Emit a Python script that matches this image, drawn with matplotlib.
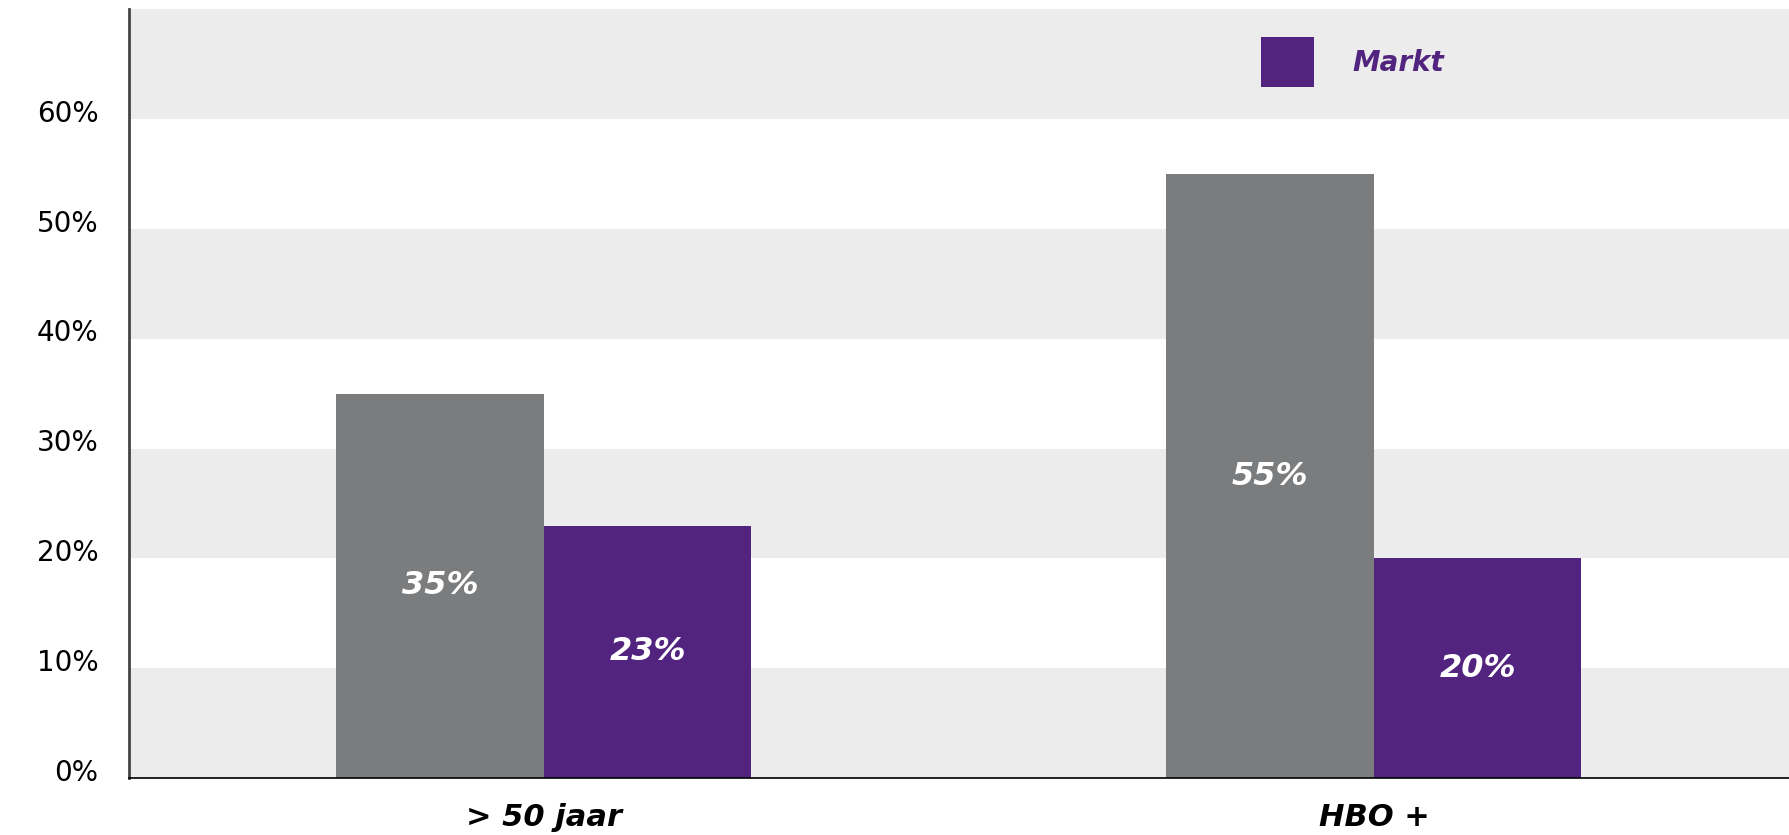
import numpy as np
import matplotlib.pyplot as plt
from matplotlib.transforms import ScaledTranslation

# data
categories = ['> 50 jaar', 'HBO +']
eigen = [35, 55]      # grey series (no legend entry)
markt = [23, 20]      # purple series
yticks = [0, 10, 20, 30, 40, 50, 60]

grey = '#7b7c7e'
purple = '#52247f'
band = '#ebeceb'

plt.rcParams['font.family'] = ['DejaVu Sans']

fig = plt.figure(figsize=(17.89, 8.35), dpi=100)
ax = fig.add_axes([0.072, 0.068, 0.928, 0.921])

x = np.arange(len(categories))
w = 0.25

# alternating grey bands
for lo in yticks[::2]:
    ax.axhspan(lo, lo + 10, color=band, zorder=0, lw=0)

b1 = ax.bar(x - w / 2, eigen, w, color=grey, zorder=2)
b2 = ax.bar(x + w / 2, markt, w, color=purple, zorder=2)

for bars in (b1, b2):
    ax.bar_label(bars, labels=[f'{v}%' for v in bars.datavalues],
                 label_type='center', color='white', fontsize=23,
                 fontweight='bold', fontstyle='italic')

ax.set_xlim(-0.5, 1.5)
ax.set_ylim(0, 70)
ax.set_yticks(yticks)
ax.set_yticklabels([f'{t}%' for t in yticks], fontsize=20)
ax.set_xticks(x)
ax.set_xticklabels(categories, fontsize=22, fontweight='bold', fontstyle='italic')
ax.tick_params(axis='y', length=0, pad=22)
ax.tick_params(axis='x', length=0, pad=18)

# y labels sit a little above their band edges
shift = ScaledTranslation(0, 6 / 72, fig.dpi_scale_trans)
for lab in ax.get_yticklabels():
    lab.set_transform(lab.get_transform() + shift)

ax.spines['top'].set_visible(False)
ax.spines['right'].set_visible(False)
ax.spines['left'].set_color('#444444')
ax.spines['left'].set_linewidth(2)
ax.spines['bottom'].set_color('black')
ax.spines['bottom'].set_linewidth(1.2)

leg = ax.legend([b2], ['Markt'], loc='center left',
                bbox_to_anchor=(1261 / 1789, 1 - 62 / 835),
                bbox_transform=fig.transFigure, frameon=False,
                borderpad=0, borderaxespad=0, handlelength=1.9,
                handleheight=2.35, handletextpad=1.4,
                prop={'size': 20, 'weight': 'bold', 'style': 'italic'})
for t in leg.get_texts():
    t.set_color(purple)

fig.savefig('out.png', dpi=100)
